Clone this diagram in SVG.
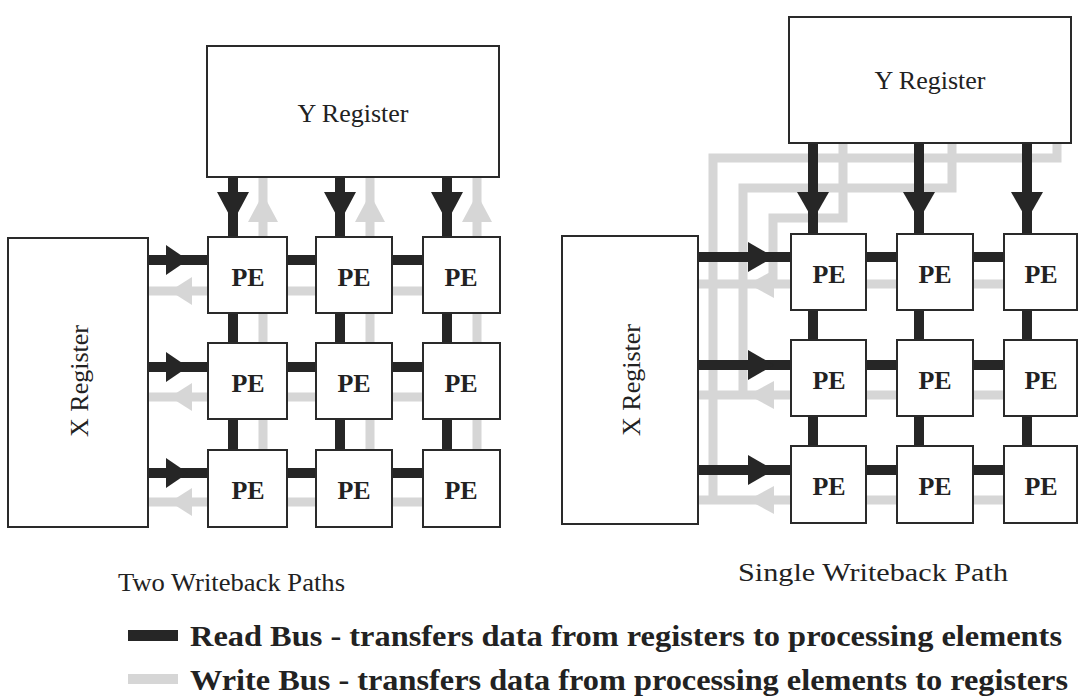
<svg xmlns="http://www.w3.org/2000/svg" width="1078" height="699" viewBox="0 0 1078 699">
  <style>
    .box { fill: #ffffff; stroke: #2a2a2a; stroke-width: 2; }
    .rd { fill: none; stroke: #262626; stroke-width: 10; }
    .wr { fill: none; stroke: #d6d6d6; stroke-width: 9; stroke-linejoin: miter; }
    .rdh { fill: #262626; }
    .wrh { fill: #d6d6d6; }
    .reg { font-family: "Liberation Serif", "Times New Roman", serif; font-size: 26px; fill: #222; }
    .pe { font-family: "Liberation Serif", "Times New Roman", serif; font-size: 26px; font-weight: bold; fill: #222; text-anchor: middle; }
    .cap { font-family: "Liberation Serif", "Times New Roman", serif; font-size: 26px; fill: #222; }
    .leg { font-family: "Liberation Serif", "Times New Roman", serif; font-size: 30px; font-weight: bold; fill: #222; }
  </style>
  <rect width="1078" height="699" fill="#ffffff"/>

  <!-- ============ Left array: two writeback paths ============ -->
  <g id="left-connectors">
    <!-- write bus (gray): columns up to Y register -->
    <path class="wr" d="M263,177 V488 M370,177 V488 M477,177 V488"/>
    <!-- write bus (gray): rows back to X register -->
    <path class="wr" d="M148,291 H500 M148,397 H500 M148,502 H500"/>
    <polygon class="wrh" points="263,194 248,222 278,222"/>
    <polygon class="wrh" points="370,194 355,222 385,222"/>
    <polygon class="wrh" points="477,194 462,222 492,222"/>
    <polygon class="wrh" points="170,291 192,277 192,305"/>
    <polygon class="wrh" points="170,397 192,383 192,411"/>
    <polygon class="wrh" points="170,502 192,488 192,516"/>
    <!-- read bus (dark): columns down from Y register -->
    <path class="rd" d="M233,177 V480 M340,177 V480 M447,177 V480"/>
    <!-- read bus (dark): rows from X register -->
    <path class="rd" d="M148,260 H480 M148,367 H480 M148,473 H480"/>
    <polygon class="rdh" points="217,192 249,192 233,222"/>
    <polygon class="rdh" points="324,192 356,192 340,222"/>
    <polygon class="rdh" points="431,192 463,192 447,222"/>
    <polygon class="rdh" points="166,245 188,260 166,275"/>
    <polygon class="rdh" points="166,352 188,367 166,382"/>
    <polygon class="rdh" points="166,458 188,473 166,488"/>
  </g>

  <g id="left-y-register">
    <rect class="box" x="207" y="46" width="292" height="131"/>
    <text class="reg" x="353" y="122" text-anchor="middle">Y Register</text>
  </g>
  <g id="left-x-register">
    <rect class="box" x="8" y="238" width="140" height="289"/>
    <text class="reg" transform="translate(88,381) rotate(-90)" text-anchor="middle">X Register</text>
  </g>

  <g id="left-pe-r1c1"><rect class="box" x="208" y="237" width="79" height="76"/><text class="pe" x="248" y="286">PE</text></g>
  <g id="left-pe-r1c2"><rect class="box" x="316" y="237" width="76" height="76"/><text class="pe" x="354" y="286">PE</text></g>
  <g id="left-pe-r1c3"><rect class="box" x="423" y="237" width="77" height="76"/><text class="pe" x="461" y="286">PE</text></g>
  <g id="left-pe-r2c1"><rect class="box" x="208" y="343" width="79" height="76"/><text class="pe" x="248" y="392">PE</text></g>
  <g id="left-pe-r2c2"><rect class="box" x="316" y="343" width="76" height="76"/><text class="pe" x="354" y="392">PE</text></g>
  <g id="left-pe-r2c3"><rect class="box" x="423" y="343" width="77" height="76"/><text class="pe" x="461" y="392">PE</text></g>
  <g id="left-pe-r3c1"><rect class="box" x="208" y="450" width="79" height="77"/><text class="pe" x="248" y="499">PE</text></g>
  <g id="left-pe-r3c2"><rect class="box" x="316" y="450" width="76" height="77"/><text class="pe" x="354" y="499">PE</text></g>
  <g id="left-pe-r3c3"><rect class="box" x="423" y="450" width="77" height="77"/><text class="pe" x="461" y="499">PE</text></g>

  <text class="cap" x="118" y="591" textLength="227" lengthAdjust="spacingAndGlyphs">Two Writeback Paths</text>

  <!-- ============ Right array: single writeback path ============ -->
  <g id="right-connectors">
    <!-- write bus (gray): rows back toward X register -->
    <path class="wr" d="M698,284 H1004 M698,395 H1004 M698,500 H1004"/>
    <!-- write bus (gray): rows routed around to Y register -->
    <polyline class="wr" points="713,500 713,158 1057,158 1057,143"/>
    <polyline class="wr" points="743,395 743,188 952,188 952,143"/>
    <polyline class="wr" points="773,284 773,218 843,218 843,143"/>
    <polygon class="wrh" points="748,284 774,270 774,298"/>
    <polygon class="wrh" points="748,395 774,381 774,409"/>
    <polygon class="wrh" points="748,500 774,486 774,514"/>
    <!-- read bus (dark) -->
    <path class="rd" d="M813,143 V470 M919,143 V470 M1027,143 V470"/>
    <path class="rd" d="M698,257 H1010 M698,365 H1010 M698,470 H1010"/>
    <polygon class="rdh" points="797,192 829,192 813,220"/>
    <polygon class="rdh" points="903,192 935,192 919,220"/>
    <polygon class="rdh" points="1011,192 1043,192 1027,220"/>
    <polygon class="rdh" points="748,242 774,257 748,272"/>
    <polygon class="rdh" points="748,350 774,365 748,380"/>
    <polygon class="rdh" points="748,455 774,470 748,485"/>
  </g>

  <g id="right-y-register">
    <rect class="box" x="789" y="17" width="282" height="126"/>
    <text class="reg" x="930" y="89" text-anchor="middle">Y Register</text>
  </g>
  <g id="right-x-register">
    <rect class="box" x="562" y="236" width="136" height="288"/>
    <text class="reg" transform="translate(640,380) rotate(-90)" text-anchor="middle">X Register</text>
  </g>

  <g id="right-pe-r1c1"><rect class="box" x="791" y="234" width="75" height="76"/><text class="pe" x="829" y="283">PE</text></g>
  <g id="right-pe-r1c2"><rect class="box" x="897" y="234" width="76" height="76"/><text class="pe" x="935" y="283">PE</text></g>
  <g id="right-pe-r1c3"><rect class="box" x="1004" y="234" width="73" height="76"/><text class="pe" x="1041" y="283">PE</text></g>
  <g id="right-pe-r2c1"><rect class="box" x="791" y="340" width="75" height="76"/><text class="pe" x="829" y="389">PE</text></g>
  <g id="right-pe-r2c2"><rect class="box" x="897" y="340" width="76" height="76"/><text class="pe" x="935" y="389">PE</text></g>
  <g id="right-pe-r2c3"><rect class="box" x="1004" y="340" width="73" height="76"/><text class="pe" x="1041" y="389">PE</text></g>
  <g id="right-pe-r3c1"><rect class="box" x="791" y="446" width="75" height="77"/><text class="pe" x="829" y="495">PE</text></g>
  <g id="right-pe-r3c2"><rect class="box" x="897" y="446" width="76" height="77"/><text class="pe" x="935" y="495">PE</text></g>
  <g id="right-pe-r3c3"><rect class="box" x="1004" y="446" width="73" height="77"/><text class="pe" x="1041" y="495">PE</text></g>

  <text class="cap" x="738" y="581" textLength="270" lengthAdjust="spacingAndGlyphs">Single Writeback Path</text>

  <!-- ============ Legend ============ -->
  <g id="legend">
    <rect x="128" y="630" width="50" height="11" fill="#262626"/>
    <text class="leg" x="190" y="646" textLength="872" lengthAdjust="spacingAndGlyphs">Read Bus - transfers data from registers to processing elements</text>
    <rect x="128" y="674" width="50" height="10" fill="#d6d6d6"/>
    <text class="leg" x="190" y="690" textLength="878" lengthAdjust="spacingAndGlyphs">Write Bus - transfers data from processing elements to registers</text>
  </g>
</svg>
